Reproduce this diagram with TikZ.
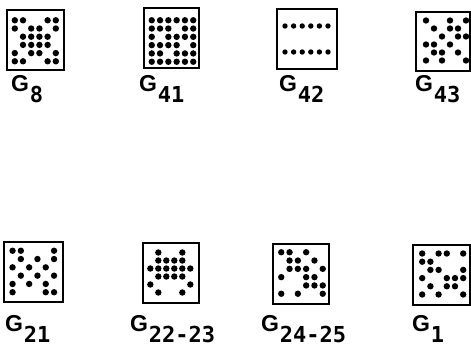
\documentclass[tikz,border=0pt]{standalone}
\usepackage{fontspec}
\newfontfamily\gfont{Liberation Sans Bold}
\newfontfamily\dfont{DejaVu Sans Mono Bold}
\newcommand\mydotgrid[4]{%
  \foreach \r/\cs in {#4} {\foreach \c in \cs {\fill (#1+\c*#3-3.5*#3, #2+\r*#3-3.5*#3) circle (3.2pt);}}}
\begin{document}
\begin{tikzpicture}[x=1pt,y=-1pt,
  box/.style={draw, line width=2.4pt, inner sep=0pt},
  gl/.style={inner sep=0pt, anchor=base west, font=\gfont\fontsize{23}{23}\selectfont},
  dl/.style={inner sep=0pt, anchor=base west, font=\dfont\fontsize{22}{22}\selectfont, xshift=0.5pt, yshift=-11pt},
]
\useasboundingbox (0,0) rectangle (471,352);

% boxes
\node[box, minimum width=57pt, minimum height=60pt] (b8)  at (35.5,40) {};
\node[box, minimum width=55pt, minimum height=60pt] (b41) at (171.5,38) {};
\node[box, minimum width=60pt, minimum height=60pt] (b42) at (307,39) {};
\node[box, minimum width=54pt, minimum height=59pt] (b43) at (443,41.5) {};
\node[box, minimum width=59pt, minimum height=60pt] (b21) at (33.5,272) {};
\node[box, minimum width=56pt, minimum height=60pt] (b22) at (171,273) {};
\node[box, minimum width=56pt, minimum height=60pt] (b24) at (301,274) {};
\node[box, minimum width=57pt, minimum height=60pt] (b1)  at (441.5,275) {};

% dot patterns
\mydotgrid{35.3}{40.8}{8.2}{1/{1,2,5,6},2/{1,3,4,6},3/{2,3,4,5},4/{2,3,4,5},5/{1,3,4,6},6/{1,2,5,6}}
\mydotgrid{172.5}{41}{8.3}{1/{1,2,3,4,5,6},2/{1,2,3,5,6},3/{1,3,4,5,6},4/{1,2,3,4,6},5/{1,2,4,5,6},6/{1,2,3,4,5,6}}
\foreach \c in {1,...,6} {\foreach \r in {0,1} {\fill (306.5+\c*8.6-3.5*8.6, 26+\r*26) circle (2.7pt);}}
\mydotgrid{446}{40.5}{8}{1/{1,4,6},2/{2,4,5},3/{3,5,6},4/{1,2,4},5/{2,3,5},6/{1,3,6}}
\mydotgrid{33.3}{271.5}{8.3}{1/{1,2,6},2/{2,4,6},3/{1,3,5},4/{2,4,6},5/{1,3,5},6/{1,5,6}}
\mydotgrid{170.3}{272.5}{8}{1/{2,5},2/{2,3,4,5},3/{1,2,3,4,5,6},4/{2,3,4,5},5/{1,6},6/{2,5}}
\mydotgrid{302}{273}{8.3}{1/{1,2,4},2/{2,3,5},3/{2,3,4,6},4/{1,4,5},5/{4,5,6},6/{1,3,6}}
\mydotgrid{442.7}{274}{8.2}{1/{1,3,4,6},2/{1,2},3/{2,3,6},4/{1,4,5,6},5/{2,4,5},6/{1,3,6}}

% labels
\node[gl] (g8)  at (11,92) {G};   \node[dl] (s8)  at (g8.base east)  {8};
\node[gl] (g41) at (139,92) {G};  \node[dl] (s41) at (g41.base east) {41};
\node[gl] (g42) at (279,92) {G};  \node[dl] (s42) at (g42.base east) {42};
\node[gl] (g43) at (415,92) {G};  \node[dl] (s43) at (g43.base east) {43};
\node[gl] (g21) at (5,332) {G};   \node[dl] (s21) at (g21.base east) {21};
\node[gl] (g22) at (130,332) {G}; \node[dl] (s22) at (g22.base east) {22-23};
\node[gl] (g24) at (261,332) {G}; \node[dl] (s24) at (g24.base east) {24-25};
\node[gl] (g1)  at (412,332) {G}; \node[dl] (s1)  at (g1.base east)  {1};
\end{tikzpicture}
\end{document}
